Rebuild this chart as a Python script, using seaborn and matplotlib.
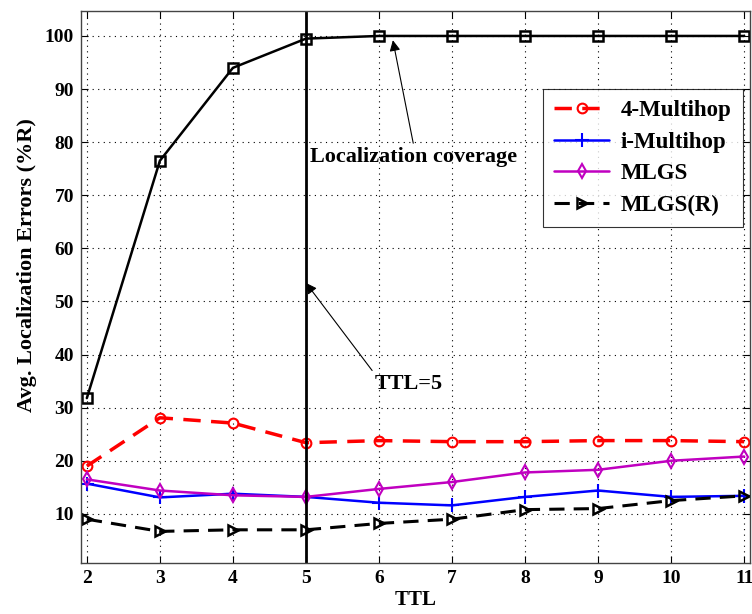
import matplotlib
matplotlib.use("Agg")
import matplotlib.pyplot as plt
import seaborn as sns
import pandas as pd
from matplotlib.lines import Line2D

ttl = [2, 3, 4, 5, 6, 7, 8, 9, 10, 11]
coverage = [31.8, 76.5, 94.0, 99.5, 100, 100, 100, 100, 100, 100]
multihop4 = [19.0, 28.1, 27.1, 23.4, 23.8, 23.6, 23.6, 23.8, 23.8, 23.6]
i_multihop = [15.7, 13.1, 13.8, 13.2, 12.1, 11.6, 13.2, 14.4, 13.2, 13.4]
mlgs = [16.5, 14.4, 13.5, 13.2, 14.7, 16.0, 17.8, 18.3, 20.0, 20.8]
mlgs_r = [9.0, 6.7, 7.0, 7.0, 8.2, 9.0, 10.8, 11.0, 12.5, 13.4]
yticks = [10, 20, 30, 40, 50, 60, 70, 80, 90, 100]

sns.set_theme(style="white")
plt.rcParams['font.family'] = ['Liberation Serif', 'DejaVu Serif']
plt.rcParams['font.weight'] = 'bold'
plt.rcParams['text.color'] = 'black'
plt.rcParams['axes.labelcolor'] = 'black'

fig = plt.figure(figsize=(7.52, 6.14), dpi=100)
ax = fig.add_axes([81/752, 1-563/614, (750-81)/752, (563-11)/614])

series = [
    ("coverage", coverage, dict(color="black", linestyle="-", marker="s", markersize=7,
                                markerfacecolor="none", markeredgewidth=1.8, linewidth=1.8)),
    ("4-Multihop", multihop4, dict(color="red", linestyle=(0, (5, 3)), marker="o", markersize=7,
                                   markerfacecolor="none", markeredgewidth=1.5, linewidth=2.5)),
    ("i-Multihop", i_multihop, dict(color="blue", linestyle="-", marker="+", markersize=10,
                                    markeredgewidth=1.5, linewidth=1.8)),
    ("MLGS", mlgs, dict(color="#c000c0", linestyle="-", marker="d", markersize=7,
                        markerfacecolor="none", markeredgewidth=1.5, linewidth=1.8)),
    ("MLGS(R)", mlgs_r, dict(color="black", linestyle=(0, (5, 3)), marker=">", markersize=7,
                             markerfacecolor="none", markeredgewidth=1.8, linewidth=2.2)),
]

for name, vals, kw in series:
    df = pd.DataFrame({"TTL": ttl, "val": vals})
    sns.lineplot(data=df, x="TTL", y="val", ax=ax, legend=False,
                 markeredgecolor=kw["color"], **kw)

ax.axvline(5, color="black", linewidth=2)

ax.set_xlim(1.92, 11.08)
ax.set_ylim(0.75, 104.7)
ax.set_xticks(ttl)
ax.set_yticks(yticks)
ax.set_xticklabels([str(t) for t in ttl], fontsize=14, fontweight='bold')
ax.set_yticklabels([str(t) for t in yticks], fontsize=14, fontweight='bold')
ax.grid(True, color="black", linestyle=(0, (1, 4)), linewidth=0.8)
ax.tick_params(direction="in", length=5, width=0.8, pad=5, colors="black",
               top=True, right=True, bottom=True, left=True)
for s in ax.spines.values():
    s.set_color("#444444")
    s.set_linewidth(1.0)

ax.set_xlabel("TTL", fontsize=15, fontweight='bold', labelpad=2)
ax.set_ylabel("Avg. Localization Errors (%R)", fontsize=16, fontweight='bold', labelpad=6)
ax.yaxis.set_label_coords(-0.066, 0.54)

ax.annotate("Localization coverage", xy=(6.19, 99.2), xytext=(5.06, 77.3),
            fontsize=16, fontweight='bold', va='center', ha='left', color='black',
            arrowprops=dict(arrowstyle='-|>', color='black', lw=0.8, mutation_scale=16,
                            shrinkA=0, shrinkB=0, relpos=(0.5, 1.0)))
ax.annotate("TTL=5", xy=(5.0, 53.5), xytext=(5.94, 34.5),
            fontsize=16, fontweight='bold', va='center', ha='left', color='black',
            arrowprops=dict(arrowstyle='-|>', color='black', lw=0.8, mutation_scale=16,
                            shrinkA=0, shrinkB=0, relpos=(0.0, 1.0)))

handles = []
for name, vals, kw in series[1:]:
    handles.append(Line2D([], [], markeredgecolor=kw["color"], label=name, **kw))
leg = ax.legend(handles=handles, loc="upper right", bbox_to_anchor=(0.9895, 0.8587),
                borderaxespad=0, prop={'weight': 'bold', 'size': 16.5}, frameon=True,
                fancybox=False, edgecolor="black", handlelength=2.4, handletextpad=0.5,
                borderpad=0.5, labelspacing=0.45)
leg.get_frame().set_linewidth(0.8)
for t in leg.get_texts():
    t.set_color('black')

fig.savefig("out.png", dpi=100)
